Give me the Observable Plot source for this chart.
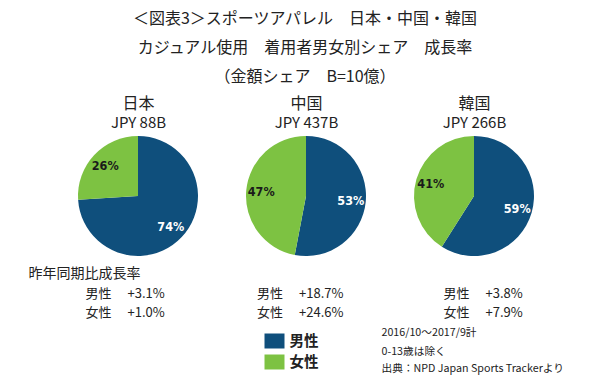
<!DOCTYPE html>
<html><head><meta charset="utf-8">
<script src="https://cdn.jsdelivr.net/npm/d3@7"></script>
<script src="https://cdn.jsdelivr.net/npm/@observablehq/plot@0.6"></script>
<style>
body{margin:0;background:#fff;font-family:"Noto Sans CJK JP",sans-serif;color:#222;overflow:hidden;}
#title{width:600px;height:88px;padding:3px 0 0 10px;box-sizing:border-box;text-align:center;font-size:16px;line-height:29px;}
#chart svg{display:block;}
</style></head><body>
<div id="title">
<div>＜図表3＞スポーツアパレル　日本・中国・韓国</div>
<div>カジュアル使用　着用者男女別シェア　成長率</div>
<div>（金額シェア　B=10億）</div>
</div>
<div id="chart"></div>
<script>
// ---- data ----
const countries = ["日本", "中国", "韓国"];
const marketSize = ["JPY 88B", "JPY 437B", "JPY 266B"];
const maleShare = [74, 53, 59];
const femaleShare = [26, 47, 41];
const maleGrowth = ["+3.1%", "+18.7%", "+3.8%"];
const femaleGrowth = ["+1.0%", "+24.6%", "+7.9%"];
const sexes = ["男性", "女性"];
const growthTitle = "昨年同期比成長率";
const notes = ["2016/10～2017/9計", "0-13歳は除く", "出典：NPD Japan Sports Trackerより"];

// ---- layout / style ----
const colors = ["#0f4f7c", "#7dc242"];
const R = 60, CY = 108;
const growthDx = {"日本": -53, "中国": -49.5, "韓国": -31};
const growthDy = [205.5, 224.5];
const txt = "#222";

const rows = countries.map((c, i) => ({
  country: c, market: marketSize[i], male: maleShare[i], female: femaleShare[i],
  growth: [maleGrowth[i], femaleGrowth[i]]
}));

function pies(index, scales) {
  const g = d3.create("svg:g");
  const pie = d3.pie().sort(null).value(d => d.share);
  const arc = d3.arc().innerRadius(0).outerRadius(R);
  const labelArc = d3.arc().innerRadius(45).outerRadius(45);
  for (const r of rows) {
    const cx = scales.x(r.country);
    const slices = pie([{sex: sexes[0], share: r.male}, {sex: sexes[1], share: r.female}]);
    const gg = g.append("g").attr("transform", `translate(${cx},${CY})`);
    gg.selectAll("path").data(slices).join("path")
      .attr("d", arc).attr("fill", d => scales.color(d.data.sex));
    gg.selectAll("text").data(slices).join("text")
      .attr("transform", d => `translate(${labelArc.centroid(d)})`)
      .attr("text-anchor", "middle").attr("dy", "0.35em")
      .attr("font-family", "'DejaVu Sans Condensed', 'DejaVu Sans', sans-serif")
      .attr("font-weight", "bold").attr("font-size", 12.5)
      .attr("fill", d => d.data.sex === sexes[0] ? "#fff" : "#1a1a1a")
      .text(d => d.data.share + "%");
  }
  return g.node();
}

const swatch = {draw(ctx) { ctx.rect(-10, -7.5, 20, 15); }};

const growthMarks = [];
for (const c of countries) {
  const d = rows.filter(r => r.country === c);
  sexes.forEach((s, i) => {
    growthMarks.push(Plot.text(d, {x: "country", text: () => s, frameAnchor: "top", dx: growthDx[c], dy: growthDy[i],
      textAnchor: "start", lineAnchor: "middle", fontSize: 13, fill: txt}));
    growthMarks.push(Plot.text(d, {x: "country", text: r => r.growth[i], frameAnchor: "top", dx: growthDx[c] + 42, dy: growthDy[i],
      textAnchor: "start", lineAnchor: "middle", fontSize: 13, fill: txt}));
  });
}

const marks = [
  Plot.text(rows, {x: "country", text: "country", frameAnchor: "top", dy: 15, lineAnchor: "middle", fontSize: 16, fill: txt}),
  Plot.text(rows, {x: "country", text: "market", frameAnchor: "top", dy: 35, lineAnchor: "middle", fontSize: 15, fill: txt}),
  pies,
  Plot.text([growthTitle], {frameAnchor: "top-left", dx: 28, dy: 185, text: d => d, textAnchor: "start", lineAnchor: "middle", fontSize: 14, fill: txt}),
  ...growthMarks,
  ...sexes.map((s, i) => Plot.dot([s], {frameAnchor: "top-left", dx: 274, dy: 252.5 + i * 21, symbol: swatch, r: 5, fill: d => d})),
  ...sexes.map((s, i) => Plot.text([s], {frameAnchor: "top-left", dx: 289, dy: 253 + i * 21, text: d => d, textAnchor: "start", lineAnchor: "middle", fontSize: 14.5, fontWeight: "bold", fill: txt})),
  ...notes.map((n, i) => Plot.text([n], {frameAnchor: "top-left", dx: 381, dy: [244, 263, 280][i], text: d => d, textAnchor: "start", lineAnchor: "middle", fontSize: 10.7, fill: txt}))
];

const chart = Plot.plot({
  width: 600, height: 298, margin: 0,
  x: {type: "point", domain: countries, range: [137, 474], padding: 0, axis: null},
  color: {domain: sexes, range: colors},
  style: {fontFamily: "'Noto Sans CJK JP', sans-serif", background: "#fff", color: txt},
  marks
});
document.getElementById("chart").appendChild(chart);
</script>
</body></html>
